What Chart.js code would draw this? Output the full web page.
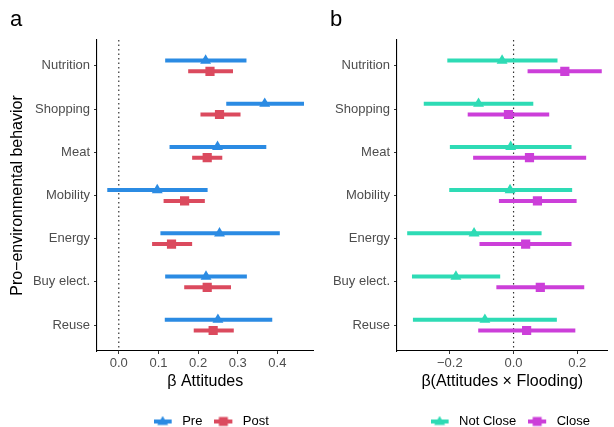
<!DOCTYPE html>
<html>
<head>
<meta charset="utf-8">
<script src="https://cdn.jsdelivr.net/npm/chart.js@4/dist/chart.umd.min.js"></script>
<style>
  html, body { margin: 0; padding: 0; background: #fff; }
  #wrap { position: relative; width: 614px; height: 427px; }
  .panel { position: absolute; top: 0; }
  #pa { left: 0; }
  #pb { left: 320px; }
</style>
</head>
<body>
<div id="wrap">
  <div class="panel" id="pa"><canvas id="chartA" width="320" height="427"></canvas></div>
  <div class="panel" id="pb"><canvas id="chartB" width="294" height="427"></canvas></div>
</div>
<script>
const behaviors = ['Nutrition', 'Shopping', 'Meat', 'Mobility', 'Energy', 'Buy elect.', 'Reuse'];

// panel a: beta attitudes, pre / post
const preEst  = [0.219, 0.368, 0.249, 0.097, 0.254, 0.220, 0.250];
const preLow  = [0.117, 0.271, 0.128, -0.029, 0.105, 0.117, 0.116];
const preHigh = [0.322, 0.467, 0.372, 0.224, 0.406, 0.323, 0.387];
const postEst  = [0.230, 0.254, 0.223, 0.166, 0.133, 0.223, 0.238];
const postLow  = [0.175, 0.206, 0.185, 0.113, 0.084, 0.165, 0.189];
const postHigh = [0.288, 0.307, 0.261, 0.217, 0.185, 0.283, 0.290];
const ticksA = [0.0, 0.1, 0.2, 0.3, 0.4];

// panel b: beta attitudes x flooding, not close / close
const notCloseEst  = [-0.036, -0.110, -0.009, -0.011, -0.124, -0.181, -0.090];
const notCloseLow  = [-0.208, -0.282, -0.200, -0.202, -0.334, -0.319, -0.316];
const notCloseHigh = [0.138, 0.062, 0.182, 0.184, 0.088, -0.042, 0.136];
const closeEst  = [0.161, -0.016, 0.050, 0.075, 0.038, 0.084, 0.041];
const closeLow  = [0.044, -0.144, -0.127, -0.046, -0.107, -0.054, -0.111];
const closeHigh = [0.277, 0.112, 0.228, 0.198, 0.182, 0.222, 0.194];
const ticksB = [-0.2, 0.0, 0.2];

const DODGE = 0.125;

function legendGlyph(color, style) {
  const c = document.createElement('canvas');
  c.width = 22; c.height = 12;
  const g = c.getContext('2d');
  g.fillStyle = color;
  g.fillRect(0, 4, 18, 4);
  if (style === 'triangle') {
    g.beginPath();
    g.moveTo(9, 0.5); g.lineTo(14.5, 9.5); g.lineTo(3.5, 9.5);
    g.closePath(); g.fill();
  } else {
    g.fillRect(4.5, 1.5, 9, 9);
  }
  return c;
}

function fmt(v) {
  const s = Math.abs(v).toFixed(1);
  return v < -1e-9 ? '\u2212' + s : s;
}

// nudge the legend sideways a little, like ggplot centres it
const legendShift = {
  id: 'legendShift',
  afterLayout(chart, args, opts) {
    if (chart.legend) {
      chart.legend.left += opts.dx || 0;
      chart.legend.right += opts.dx || 0;
    }
  }
};

function makePanel(id, letter, series, xMin, xMax, xTicks, xTitle, yTitle, yWidth, legendDx) {
  const datasets = [];
  series.forEach((s, k) => {
    const off = k === 0 ? -DODGE : DODGE;
    const r = s.style === 'triangle' ? 6.3 : 6.5;
    datasets.push({
      label: s.name,
      data: s.est.map((v, i) => ({ x: v, y: i + off })),
      pointStyle: s.style,
      pointRadius: r,
      pointHoverRadius: r,
      backgroundColor: s.color,
      borderColor: s.color,
      borderWidth: 0,
      order: 0
    });
    const seg = [];
    s.low.forEach((lo, i) => {
      seg.push({ x: lo, y: i + off }, { x: s.high[i], y: i + off }, { x: null, y: null });
    });
    datasets.push({
      label: s.name + ' CI',
      data: seg,
      showLine: true,
      spanGaps: false,
      borderColor: s.color,
      borderWidth: 4,
      borderCapStyle: 'butt',
      pointRadius: 0,
      order: 1
    });
  });
  // dotted reference line at zero
  datasets.push({
    label: 'zero',
    data: [{ x: 0, y: -0.6 }, { x: 0, y: behaviors.length - 0.4 }],
    showLine: true,
    borderColor: '#333',
    borderWidth: 1.2,
    borderDash: [1.5, 3],
    pointRadius: 0,
    order: 2
  });

  return new Chart(document.getElementById(id), {
    type: 'scatter',
    data: { datasets },
    plugins: [legendShift],
    options: {
      responsive: false,
      animation: false,
      layout: { padding: { left: 10, right: id === 'chartA' ? 4 : 2, top: 0, bottom: -11 } },
      plugins: {
        legendShift: { dx: legendDx },
        title: {
          display: true, text: letter, align: 'start', color: '#000',
          font: { family: 'Liberation Sans', size: 22, weight: 'normal' },
          padding: { top: 7, bottom: 6.6 }
        },
        tooltip: { enabled: false },
        legend: {
          position: 'bottom',
          fullSize: false,
          onClick: () => {},
          labels: {
            usePointStyle: true,
            pointStyleWidth: 22,
            padding: 12,
            color: '#000',
            font: { family: 'Liberation Sans', size: 13 },
            generateLabels: () => series.map(s => ({
              text: s.name,
              pointStyle: legendGlyph(s.color, s.style),
              fillStyle: s.color, strokeStyle: s.color, lineWidth: 0, hidden: false
            }))
          }
        }
      },
      scales: {
        x: {
          type: 'linear', min: xMin, max: xMax,
          afterBuildTicks: sc => { sc.ticks = xTicks.map(v => ({ value: v })); },
          afterFit: sc => { sc.height = 52; },
          grid: { drawOnChartArea: false, drawTicks: true, tickLength: 3, tickColor: '#333', tickWidth: 1 },
          border: { color: '#000', width: 1.1 },
          ticks: { color: '#4d4d4d', font: { family: 'Liberation Sans', size: 13 }, padding: 2, callback: v => fmt(v) },
          title: { display: true, text: xTitle, color: '#000', font: { family: 'Liberation Sans', size: 16 }, padding: { top: 0, bottom: 12 } }
        },
        y: {
          type: 'linear', reverse: true, min: -0.6, max: behaviors.length - 0.4,
          afterBuildTicks: sc => { sc.ticks = behaviors.map((b, i) => ({ value: i })); },
          afterFit: sc => { sc.width = yWidth; },
          grid: { drawOnChartArea: false, drawTicks: true, tickLength: 3, tickColor: '#333', tickWidth: 1 },
          border: { color: '#000', width: 1.1 },
          ticks: { color: '#4d4d4d', font: { family: 'Liberation Sans', size: 13 }, padding: 4, callback: v => behaviors[v] },
          title: { display: !!yTitle, text: yTitle, color: '#000', font: { family: 'Liberation Sans', size: 16, lineHeight: 1 }, padding: 0 }
        }
      }
    }
  });
}

makePanel('chartA', 'a', [
  { name: 'Pre',  est: preEst,  low: preLow,  high: preHigh,  color: '#2B8BE3', style: 'triangle' },
  { name: 'Post', est: postEst, low: postLow, high: postHigh, color: '#DB4A5E', style: 'rect' }
], -0.0549, 0.491, ticksA, '\u03B2 Attitudes', 'Pro\u2212environmental behavior', 87, 6);

makePanel('chartB', 'b', [
  { name: 'Not Close', est: notCloseEst, low: notCloseLow, high: notCloseHigh, color: '#2EDBB5', style: 'triangle' },
  { name: 'Close',     est: closeEst,    low: closeLow,    high: closeHigh,    color: '#CC3FD9', style: 'rect' }
], -0.366, 0.295, ticksB, '\u03B2(Attitudes \u00D7 Flooding)', '', 67, 8);
</script>
</body>
</html>
